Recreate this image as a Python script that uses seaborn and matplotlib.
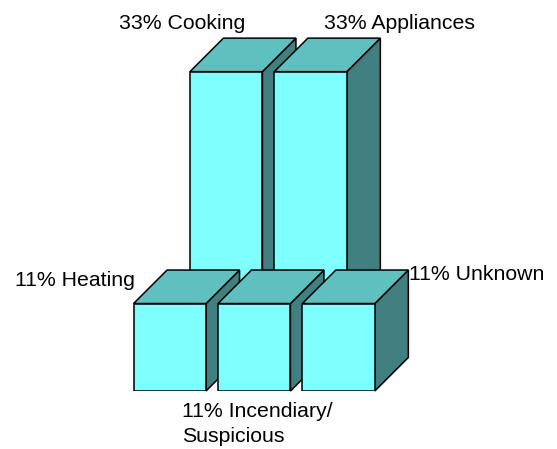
import matplotlib.pyplot as plt
import pandas as pd
import seaborn as sns
from matplotlib.patches import Polygon

sns.set_theme(style="white")
plt.rcParams["font.family"] = ["Liberation Sans", "DejaVu Sans"]

# back row
back_causes = ["Cooking", "Appliances"]
back_values = [33, 33]
# front row
front_causes = ["Heating", "Incendiary/Suspicious", "Unknown"]
front_values = [11, 11, 11]

W, H = 557, 449
SLOT = 84.4
PX_PER_PCT = 7.95
DEPTH = 33.5

fig = plt.figure(figsize=(W / 100, H / 100), dpi=100)


def row(causes, values, left, base, z):
    # one axes per row, so the back row just sits shifted up and right
    n = len(causes)
    ax = fig.add_axes([left / W, (H - base) / H, n * SLOT / W, 40 * PX_PER_PCT / H], zorder=z)
    df = pd.DataFrame({"cause": causes, "pct": values})
    sns.barplot(data=df, x="cause", y="pct", color="#80FFFF", saturation=1, width=72.5 / SLOT,
                edgecolor="black", linewidth=1.1, ax=ax)
    ax.set_xlim(-0.5, n - 0.5)
    ax.set_ylim(0, 40)
    ax.axis("off")
    dx = DEPTH / SLOT
    dy = DEPTH / PX_PER_PCT
    # painter's order, each bar goes over the side of the one on its left
    for i, bar in enumerate(ax.patches[:n]):
        x0, x1 = bar.get_x(), bar.get_x() + bar.get_width()
        h = bar.get_height()
        side = [(x1, 0), (x1 + dx, dy), (x1 + dx, h + dy), (x1, h)]
        top = [(x0, h), (x0 + dx, h + dy), (x1 + dx, h + dy), (x1, h)]
        bar.set_zorder(3 * i + 3)
        for pts, col in ((side, "#408080"), (top, "#60C0C0")):
            ax.add_patch(Polygon(pts, closed=True, facecolor=col, edgecolor="black",
                                 linewidth=1.1, clip_on=False, zorder=3 * i + 2))
    return ax


row(back_causes, back_values, 184.0, 334, 1)
row(front_causes, front_values, 127.6, 391, 2)

labels = [
    ("33% Cooking", 119, 29),
    ("33% Appliances", 324, 29),
    ("11% Heating", 15, 286),
    ("11% Unknown", 409, 280),
    ("11% Incendiary/", 182, 417),
    ("Suspicious", 182, 442),
]
for txt, px, py in labels:
    fig.text(px / W, (H - py) / H, txt, fontsize=15.3, color="black", va="baseline", ha="left", zorder=5)

fig.savefig("out.png", dpi=100)
